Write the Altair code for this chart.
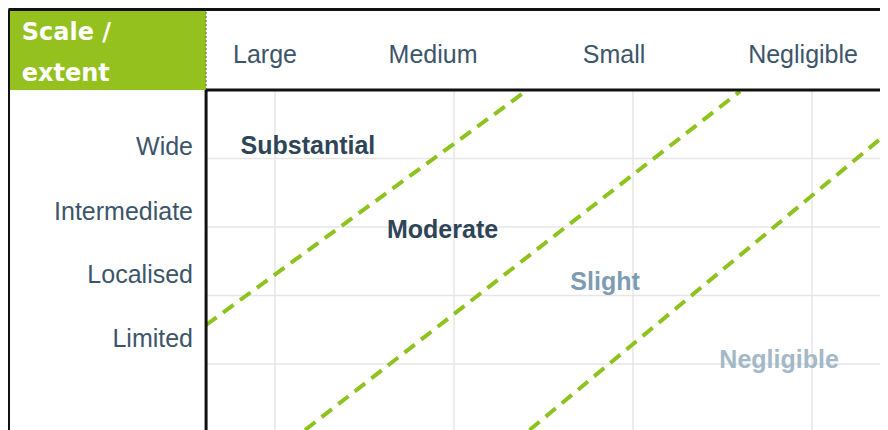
import altair as alt
import pandas as pd

# ---- data ----
columns = ["Large", "Medium", "Small", "Negligible"]
col_x = [0.944, 1.883, 2.894, 3.950]
col_y = [5.387, 5.387, 5.387, 5.387]

rows = ["Wide", "Intermediate", "Localised", "Limited"]
row_x = [0.542, 0.542, 0.542, 0.542]
row_y = [4.051, 3.102, 2.182, 1.248]

categories = ["Substantial", "Moderate", "Slight", "Negligible"]
cat_x = [1.184, 1.936, 2.844, 3.816]
cat_y = [4.066, 2.839, 2.080, 0.942]
cat_colors = ["#2e4457", "#2e4457", "#7d9bb2", "#a4b8c7"]

header_lines = ["Scale /", "extent"]
header_x = [-0.415, -0.415]
header_y = [5.730, 5.131]

line_id = ["a", "a", "b", "b", "c", "c"]
line_x = [0.615, 2.400, 1.168, 3.598, 2.422, 4.4246]
line_y = [1.570, 4.980, 0.0365, 4.980, 0.0365, 4.380]

grid_x = [1, 2, 3, 4]
grid_y = [1, 2, 3, 4]

X_MIN, X_MAX = -0.4916, 4.3799
Y_MIN, Y_MAX = 0.0365, 6.197
X_PLOT, Y_PLOT = 0.615, 5.0
X_FRAME, Y_FRAME = -0.4888, 6.175

# ---- tables ----
grid_df = pd.DataFrame(
    [{"x": gx, "x2": gx, "y": Y_MIN, "y2": Y_PLOT} for gx in grid_x]
    + [{"x": X_PLOT, "x2": X_MAX, "y": gy, "y2": gy} for gy in grid_y]
)
frame_df = pd.DataFrame([
    {"x": X_FRAME, "x2": X_MAX, "y": Y_FRAME, "y2": Y_FRAME},
    {"x": X_FRAME, "x2": X_FRAME, "y": Y_FRAME, "y2": Y_MIN},
    {"x": X_PLOT, "x2": X_MAX, "y": Y_PLOT, "y2": Y_PLOT},
    {"x": X_PLOT, "x2": X_PLOT, "y": Y_PLOT, "y2": Y_MIN},
])
sep_df = pd.DataFrame([{"x": X_PLOT, "x2": X_PLOT, "y": Y_PLOT, "y2": Y_FRAME}])
box_df = pd.DataFrame([{"x": X_FRAME, "x2": X_PLOT, "y": Y_PLOT, "y2": Y_FRAME}])
lines_df = pd.DataFrame({"line": line_id, "x": line_x, "y": line_y})
col_df = pd.DataFrame({"label": columns, "x": col_x, "y": col_y})
row_df = pd.DataFrame({"label": rows, "x": row_x, "y": row_y})
cat_df = pd.DataFrame({"label": categories, "x": cat_x, "y": cat_y, "color": cat_colors})
head_df = pd.DataFrame({"label": header_lines, "x": header_x, "y": header_y})

xs = alt.Scale(domain=[X_MIN, X_MAX], nice=False, zero=False)
ys = alt.Scale(domain=[Y_MIN, Y_MAX], nice=False, zero=False)

def X(f="x"):
    return alt.X(f"{f}:Q", scale=xs, axis=None)

def Y(f="y"):
    return alt.Y(f"{f}:Q", scale=ys, axis=None)

def segs(df, **mark):
    return alt.Chart(df).mark_rule(**mark).encode(
        x=X(), y=Y(), x2="x2:Q", y2="y2:Q"
    )

grid = segs(grid_df, color="#e6e6e6", strokeWidth=1.5)
box = alt.Chart(box_df).mark_rect(color="#95c11f").encode(
    x=X(), y=Y(), x2="x2:Q", y2="y2:Q"
)
sep = segs(sep_df, color="#666666", strokeWidth=1, strokeDash=[2, 2])
frame = segs(frame_df, color="#111111", strokeWidth=3)

bounds = alt.Chart(lines_df).mark_line(
    color="#8dc21f", strokeWidth=4, strokeDash=[13, 8], strokeCap="butt", clip=True
).encode(x=X(), y=Y(), detail="line:N")

col_text = alt.Chart(col_df).mark_text(
    font="Liberation Sans", fontSize=25, color="#3d556b", align="center", baseline="alphabetic"
).encode(x=X(), y=Y(), text="label:N")

row_text = alt.Chart(row_df).mark_text(
    font="Liberation Sans", fontSize=25, color="#3d556b", align="right", baseline="alphabetic"
).encode(x=X(), y=Y(), text="label:N")

cat_text = alt.Chart(cat_df).mark_text(
    font="Liberation Sans", fontSize=25, fontWeight="bold", align="center", baseline="alphabetic"
).encode(x=X(), y=Y(), text="label:N", color=alt.Color("color:N", scale=None))

head_text = alt.Chart(head_df).mark_text(
    font="DejaVu Sans", fontSize=24, fontWeight="bold", color="#ffffff", align="left", baseline="alphabetic"
).encode(x=X(), y=Y(), text="label:N")

chart = alt.layer(
    grid, box, sep, bounds, frame, col_text, row_text, cat_text, head_text
).properties(
    width=872, height=422, padding=0,
    autosize=alt.AutoSizeParams(type="none"),
    background="#ffffff",
).configure_view(stroke=None)

chart.save("out.html", embed_options={"renderer": "svg", "actions": False})
